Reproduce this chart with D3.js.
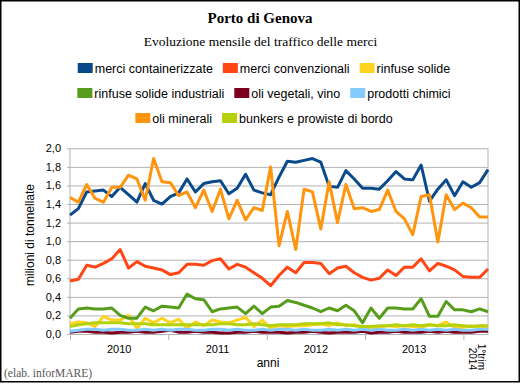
<!DOCTYPE html>
<html>
<head>
<meta charset="utf-8">
<script src="https://cdn.jsdelivr.net/npm/d3@7"></script>
<style>
  html, body { margin: 0; padding: 0; background: #fff; }
  svg { display: block; }
  .sans { font-family: "Liberation Sans", Arial, sans-serif; }
  .serif { font-family: "Liberation Serif", "Times New Roman", serif; }
</style>
</head>
<body>
<div id="chart"></div>
<script>
'use strict';

// ── Data: monthly traffic, Jan 2010 … Mar 2014 (million tonnes) ──
const yearLabels   = ['2010', '2011', '2012', '2013'];
const lastLabel    = ['1°trim', '2014'];
const monthsInYear = 12;
const monthCount   = 51;   // 4 full years + first quarter 2014
const yTicks       = [0, 0.2, 0.4, 0.6, 0.8, 1.0, 1.2, 1.4, 1.6, 1.8, 2.0];

const merciContainerizzate = [
  1.28, 1.35, 1.53, 1.54, 1.55, 1.48, 1.58, 1.50, 1.42, 1.62, 1.44, 1.40,
  1.48, 1.52, 1.67, 1.53, 1.62, 1.64, 1.65, 1.51, 1.57, 1.72, 1.55, 1.52,
  1.50, 1.69, 1.86, 1.85, 1.87, 1.89, 1.85, 1.59, 1.58, 1.76, 1.67, 1.57,
  1.57, 1.56, 1.65, 1.75, 1.67, 1.66, 1.82, 1.43, 1.56, 1.66, 1.49, 1.64,
  1.58, 1.63, 1.77
];
const merciConvenzionali = [
  0.57, 0.59, 0.74, 0.72, 0.76, 0.81, 0.91, 0.71, 0.78, 0.73, 0.71, 0.69,
  0.64, 0.66, 0.75, 0.75, 0.74, 0.79, 0.81, 0.70, 0.75, 0.72, 0.66, 0.60,
  0.52, 0.63, 0.72, 0.66, 0.77, 0.77, 0.76, 0.65, 0.71, 0.73, 0.66, 0.61,
  0.58, 0.60, 0.69, 0.63, 0.72, 0.72, 0.81, 0.68, 0.76, 0.73, 0.69, 0.62,
  0.61, 0.61, 0.70
];
const rinfuseSolide = [
  0.11, 0.13, 0.12, 0.08, 0.19, 0.15, 0.15, 0.20, 0.06, 0.17, 0.12, 0.17,
  0.12, 0.16, 0.06, 0.13, 0.09, 0.15, 0.13, 0.12, 0.15, 0.18, 0.08, 0.15,
  0.06, 0.09, 0.08, 0.09, 0.09, 0.10, 0.11, 0.09, 0.12, 0.09, 0.10, 0.07,
  0.06, 0.07, 0.09, 0.08, 0.09, 0.08, 0.07, 0.10, 0.09, 0.13, 0.07, 0.07,
  0.09, 0.07, 0.08
];
const rinfuseIndustriali = [
  0.17, 0.27, 0.28, 0.27, 0.27, 0.28, 0.20, 0.17, 0.17, 0.29, 0.25, 0.30,
  0.29, 0.28, 0.43, 0.38, 0.37, 0.24, 0.27, 0.28, 0.29, 0.22, 0.30, 0.22,
  0.29, 0.30, 0.36, 0.34, 0.31, 0.28, 0.24, 0.28, 0.25, 0.31, 0.25, 0.12,
  0.28, 0.17, 0.28, 0.28, 0.27, 0.27, 0.38, 0.19, 0.19, 0.35, 0.26, 0.26,
  0.24, 0.27, 0.24
];
const oliVegetali = [
  0.02, 0.03, 0.03, 0.02, 0.02, 0.01, 0.02, 0.02, 0.03, 0.02, 0.02, 0.03,
  0.04, 0.02, 0.02, 0.03, 0.02, 0.02, 0.01, 0.01, 0.02, 0.02, 0.03, 0.02,
  0.02, 0.02, 0.01, 0.02, 0.02, 0.03, 0.02, 0.01, 0.02, 0.02, 0.02, 0.03,
  0.01, 0.02, 0.02, 0.03, 0.02, 0.02, 0.02, 0.03, 0.02, 0.03, 0.02, 0.02,
  0.02, 0.03, 0.03
];
const prodottiChimici = [
  0.03, 0.04, 0.05, 0.05, 0.04, 0.05, 0.05, 0.04, 0.04, 0.05, 0.04, 0.05,
  0.04, 0.05, 0.05, 0.04, 0.04, 0.05, 0.05, 0.04, 0.05, 0.04, 0.04, 0.05,
  0.04, 0.05, 0.05, 0.04, 0.05, 0.04, 0.04, 0.05, 0.04, 0.05, 0.04, 0.05,
  0.04, 0.05, 0.04, 0.04, 0.05, 0.04, 0.05, 0.04, 0.05, 0.04, 0.05, 0.04,
  0.04, 0.05, 0.05
];
const oliMinerali = [
  1.47, 1.42, 1.61, 1.46, 1.42, 1.58, 1.58, 1.71, 1.67, 1.44, 1.89, 1.64,
  1.63, 1.49, 1.53, 1.36, 1.55, 1.32, 1.56, 1.24, 1.44, 1.23, 1.36, 1.33,
  1.80, 0.95, 1.32, 0.91, 1.56, 1.53, 1.13, 1.64, 1.20, 1.61, 1.35, 1.36,
  1.32, 1.34, 1.55, 1.32, 1.24, 1.07, 1.48, 1.50, 0.99, 1.50, 1.34, 1.41,
  1.36, 1.26, 1.26
];
const bunkers = [
  0.08, 0.10, 0.11, 0.12, 0.12, 0.12, 0.12, 0.11, 0.11, 0.11, 0.10, 0.10,
  0.10, 0.10, 0.10, 0.10, 0.10, 0.10, 0.11, 0.11, 0.10, 0.10, 0.11, 0.10,
  0.09, 0.10, 0.10, 0.10, 0.11, 0.11, 0.11, 0.12, 0.10, 0.10, 0.09, 0.08,
  0.08, 0.09, 0.09, 0.10, 0.09, 0.10, 0.09, 0.10, 0.09, 0.09, 0.10, 0.09,
  0.08, 0.09, 0.09
];

const seriesNames  = ['merci containerizzate', 'merci convenzionali', 'rinfuse solide',
                      'rinfuse solide industriali', 'oli vegetali, vino', 'prodotti chimici',
                      'oli minerali', 'bunkers e prowiste di bordo'];
const seriesValues = [merciContainerizzate, merciConvenzionali, rinfuseSolide,
                      rinfuseIndustriali, oliVegetali, prodottiChimici,
                      oliMinerali, bunkers];
const seriesColors = ['#0b4a8a', '#ff4614', '#ffd320', '#579d1c',
                      '#7e0021', '#83caff', '#ff950e', '#b4d10a'];
const legendRows   = [[0, 1, 2], [3, 4, 5], [6, 7]];

// ── Layout ──────────────────────────────────────────────────
const width = 521, height = 384;
const plot = { left: 70, right: 488, top: 148.3, bottom: 334 };
const gridColor = '#b3b3b3';

const svg = d3.select('#chart').append('svg')
  .attr('width', width)
  .attr('height', height);

svg.append('rect')
  .attr('x', 0.75).attr('y', 0.75)
  .attr('width', 518.5).attr('height', 381)
  .attr('fill', '#fff')
  .attr('stroke', '#000')
  .attr('stroke-width', 1.5);

// ── Scales ──────────────────────────────────────────────────
const y = d3.scaleLinear().domain([0, 2]).range([plot.bottom, plot.top]);
// line points sit from the left axis to the right edge
const xPt = d3.scaleLinear().domain([0, monthCount - 1]).range([plot.left, plot.right]);
// category slots used for year ticks and labels
const xCat = d3.scaleLinear().domain([0, monthCount]).range([plot.left, plot.right]);

// ── Y axis + gridlines ──────────────────────────────────────
const yAxis = svg.append('g')
  .attr('class', 'sans')
  .attr('transform', `translate(${plot.left - 3},0)`)
  .call(d3.axisLeft(y)
    .tickValues(yTicks)
    .tickSize(-(plot.right - plot.left + 3))
    .tickPadding(6)
    .tickFormat(d => d3.format('.1f')(d).replace('.', ',')));
yAxis.select('.domain').remove();
yAxis.selectAll('.tick line').attr('stroke', gridColor).attr('stroke-width', 1);
yAxis.selectAll('.tick text')
  .attr('font-size', 11)
  .attr('fill', '#000');

// ── X axis ──────────────────────────────────────────────────
const tickIdx = yearLabels.map((_, i) => i * monthsInYear);
tickIdx.push(yearLabels.length * monthsInYear);

const xAxis = svg.append('g')
  .attr('transform', `translate(0,${plot.bottom})`)
  .call(d3.axisBottom(xCat).tickValues(tickIdx).tickSize(6).tickSizeOuter(0).tickFormat(''));
xAxis.select('.domain').attr('stroke', gridColor);
xAxis.selectAll('.tick line').attr('stroke', gridColor);

// left axis line and right frame of the plot
svg.append('line')
  .attr('x1', plot.left).attr('x2', plot.left)
  .attr('y1', plot.top).attr('y2', plot.bottom)
  .attr('stroke', gridColor);
svg.append('line')
  .attr('x1', plot.right).attr('x2', plot.right)
  .attr('y1', plot.top).attr('y2', plot.bottom)
  .attr('stroke', gridColor);

// year labels, centred in each 12-month slot
svg.append('g').attr('class', 'sans')
  .selectAll('text')
  .data(yearLabels)
  .join('text')
  .attr('x', (d, i) => xCat(i * monthsInYear + monthsInYear / 2))
  .attr('y', 353)
  .attr('text-anchor', 'middle')
  .attr('font-size', 11)
  .text(d => d);

// last quarter label, rotated clockwise, two lines
const qx = xCat(yearLabels.length * monthsInYear + 1.5);
const qLabel = svg.append('text')
  .attr('class', 'sans')
  .attr('font-size', 10)
  .attr('text-anchor', 'end')
  .attr('transform', `translate(${qx + 2.5},370) rotate(90)`);
qLabel.selectAll('tspan')
  .data(lastLabel)
  .join('tspan')
  .attr('x', 0)
  .attr('y', (d, i) => i * 9.5)
  .text(d => d);

svg.append('text')
  .attr('class', 'sans')
  .attr('x', 268).attr('y', 367)
  .attr('text-anchor', 'middle')
  .attr('font-size', 12)
  .text('anni');

svg.append('text')
  .attr('class', 'sans')
  .attr('transform', 'translate(34,235) rotate(-90)')
  .attr('text-anchor', 'middle')
  .attr('font-size', 12)
  .text('milioni di tonnellate');

// ── Lines ───────────────────────────────────────────────────
const line = d3.line()
  .x((d, i) => xPt(i))
  .y(d => y(d));

svg.append('g')
  .selectAll('path')
  .data(seriesValues)
  .join('path')
  .attr('d', d => line(d))
  .attr('fill', 'none')
  .attr('stroke', (d, i) => seriesColors[i])
  .attr('stroke-width', 3)
  .attr('stroke-linejoin', 'round');

// ── Titles ──────────────────────────────────────────────────
svg.append('text')
  .attr('class', 'serif')
  .attr('x', 260).attr('y', 23)
  .attr('text-anchor', 'middle')
  .attr('font-size', 15)
  .attr('font-weight', 'bold')
  .text('Porto di Genova');

svg.append('text')
  .attr('class', 'serif')
  .attr('x', 260.5).attr('y', 46)
  .attr('text-anchor', 'middle')
  .attr('font-size', 13.5)
  .text('Evoluzione mensile del traffico delle merci');

// ── Legend (three centred rows) ─────────────────────────────
const legendCenter = 264;
const rowY = [68, 93, 118];
legendRows.forEach((row, r) => {
  const g = svg.append('g').attr('class', 'sans');
  let cursor = 0;
  row.forEach(k => {
    g.append('rect')
      .attr('x', cursor).attr('y', rowY[r] - 5)
      .attr('width', 15).attr('height', 10)
      .attr('fill', seriesColors[k]);
    const t = g.append('text')
      .attr('x', cursor + 17).attr('y', rowY[r] + 4.5)
      .attr('font-size', 12.5)
      .text(seriesNames[k]);
    cursor += 17 + t.node().getComputedTextLength() + 10;
  });
  const rowWidth = cursor - 10;
  g.attr('transform', `translate(${legendCenter - rowWidth / 2},0)`);
});

// ── Source note ─────────────────────────────────────────────
svg.append('text')
  .attr('class', 'serif')
  .attr('x', 4).attr('y', 377)
  .attr('font-size', 11.5)
  .attr('fill', '#555')
  .text('(elab. inforMARE)');
</script>
</body>
</html>
